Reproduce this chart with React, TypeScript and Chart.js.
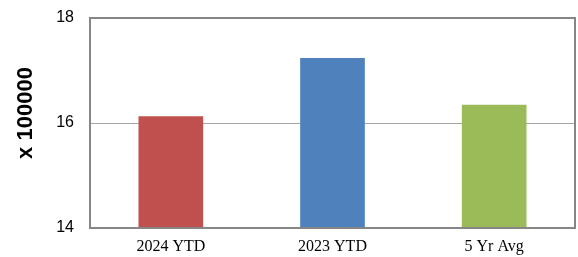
import React, { useEffect, useRef } from "react";
import { Chart, registerables } from "chart.js";

Chart.register(...registerables);

const categories = ["2024 YTD", "2023 YTD", "5 Yr Avg"];
const values = [16.13, 17.24, 16.35];
const barColors = ["#C0504D", "#4F81BD", "#9BBB59"];
const yMin = 14;
const yMax = 18;
const yStep = 2;
const yTitle = "x 100000";

const framePlugin = {
  id: "frame",
  afterDatasetsDraw(chart: any) {
    const { ctx, chartArea } = chart;
    ctx.save();
    ctx.strokeStyle = "#868686";
    ctx.lineWidth = 2;
    ctx.strokeRect(
      chartArea.left,
      chartArea.top,
      chartArea.right - chartArea.left,
      chartArea.bottom - chartArea.top
    );
    ctx.restore();
  },
};

const yTitlePlugin = {
  id: "yTitle",
  afterDraw(chart: any) {
    const { ctx } = chart;
    ctx.save();
    ctx.translate(26, 113);
    ctx.rotate(-Math.PI / 2);
    ctx.textAlign = "center";
    ctx.textBaseline = "middle";
    ctx.font = 'bold 22px "Liberation Sans", Arial, sans-serif';
    ctx.fillStyle = "#000000";
    ctx.fillText(yTitle, 0, 0);
    ctx.restore();
  },
};

export default function App() {
  const ref = useRef<HTMLCanvasElement | null>(null);

  useEffect(() => {
    if (!ref.current) return;
    const chart = new Chart(ref.current, {
      type: "bar",
      data: {
        labels: categories,
        datasets: [
          {
            data: values,
            backgroundColor: barColors,
            borderWidth: 0,
            barPercentage: 0.4,
            categoryPercentage: 1,
          },
        ],
      },
      options: {
        animation: false,
        responsive: true,
        maintainAspectRatio: false,
        layout: { padding: { top: 18, right: 3, bottom: 0, left: 0 } },
        plugins: {
          legend: { display: false },
          tooltip: { enabled: false },
        },
        scales: {
          x: {
            grid: { display: false, drawTicks: false },
            border: { display: false },
            ticks: {
              padding: 9,
              color: "#000000",
              font: { family: '"Liberation Serif", "Times New Roman", serif', size: 16 },
            },
            afterFit(scale: any) {
              scale.height = 29;
              scale.paddingLeft = 0;
              scale.paddingRight = 0;
            },
          },
          y: {
            min: yMin,
            max: yMax,
            grid: { color: "#A6A6A6", lineWidth: 1, drawTicks: false },
            border: { display: false },
            ticks: {
              stepSize: yStep,
              padding: 16,
              color: "#000000",
              font: { family: '"Liberation Sans", Arial, sans-serif', size: 16 },
            },
            afterFit(scale: any) {
              scale.width = 90;
              scale.paddingTop = 0;
              scale.paddingBottom = 0;
            },
          },
        },
      },
      plugins: [framePlugin, yTitlePlugin],
    });
    return () => chart.destroy();
  }, []);

  return (
    <div style={{ position: "absolute", left: 0, top: 0, width: 578, height: 257 }}>
      <canvas ref={ref} />
    </div>
  );
}
